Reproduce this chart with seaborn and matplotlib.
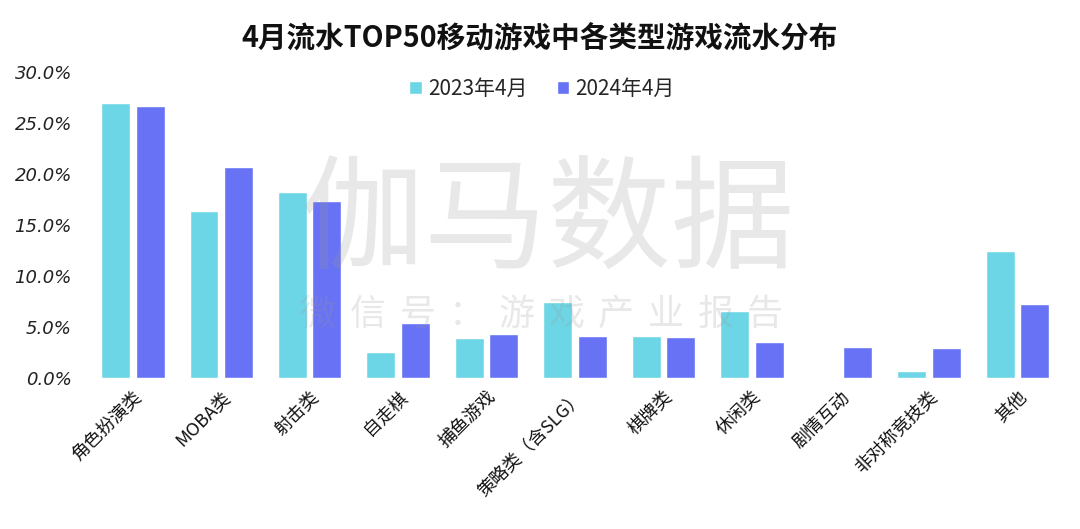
import pandas as pd
import matplotlib
matplotlib.use("Agg")
import matplotlib.pyplot as plt
import seaborn as sns

# data (share of revenue, %)
categories = ['角色扮演类', 'MOBA类', '射击类', '自走棋', '捕鱼游戏', '策略类（含SLG）',
              '棋牌类', '休闲类', '剧情互动', '非对称竞技类', '其他']
share_2023 = [27.0, 16.4, 18.3, 2.6, 3.9, 7.5, 4.1, 6.6, 0.0, 0.7, 12.5]
share_2024 = [26.7, 20.7, 17.4, 5.4, 4.3, 4.1, 4.0, 3.6, 3.1, 3.0, 7.3]
series = ['2023年4月', '2024年4月']
palette = ['#6dd6e6', '#6872f4']
watermark_sub = '微信号：游戏产业报告'

df = pd.DataFrame({
    'category': categories * 2,
    'share': share_2023 + share_2024,
    'period': [series[0]] * len(categories) + [series[1]] * len(categories),
})

sns.set_theme(style='white')
plt.rcParams['font.family'] = ['Noto Sans CJK SC', 'DejaVu Sans']

fig = plt.figure(figsize=(10.8, 5.29), dpi=100)
ax = fig.add_axes([0.082, 0.285, 0.901, 0.578])

sns.barplot(data=df, x='category', y='share', hue='period', palette=palette,
            width=0.78, gap=0.16, saturation=1, ax=ax, legend=True)

ax.set_ylim(0, 30)
ax.set_xlim(-0.5, len(categories) - 0.5)
ax.set_yticks(range(0, 31, 5))
ax.set_yticklabels([f'{v:.1f}%' for v in range(0, 31, 5)],
                   fontsize=13, fontstyle='italic', family='DejaVu Sans', color='#222222')
ax.set_xticks(range(len(categories)))
ax.set_xticklabels(categories, rotation=45, ha='right', rotation_mode='anchor',
                   fontsize=13, color='#111111')
ax.tick_params(axis='x', pad=7, length=0)
ax.tick_params(axis='y', pad=12, length=0)
ax.set_xlabel('')
ax.set_ylabel('')
sns.despine(ax=ax, left=True, bottom=True)

leg = ax.legend(loc='upper center', bbox_to_anchor=(0.466, 1.045), ncol=2, frameon=False,
                fontsize=15, handlelength=0.6, handleheight=0.6, handletextpad=0.3,
                columnspacing=1.4)

fig.text(0.5, 0.928, '4月流水TOP50移动游戏中各类型游戏流水分布', ha='center', va='center',
         fontsize=20.6, fontweight='bold', color='#111111')

# watermark
fig.text(0.507, 0.578, '伽马数据', ha='center', va='center', fontsize=89,
         color='#9a9a9a', alpha=0.22, zorder=10)
for i, ch in enumerate(watermark_sub):
    fig.text((318 + i * 49.7) / 1080, 0.405, ch, ha='center', va='center', fontsize=26,
             color='#9a9a9a', alpha=0.22, zorder=10)

fig.savefig('out.png', dpi=100, facecolor='white')
